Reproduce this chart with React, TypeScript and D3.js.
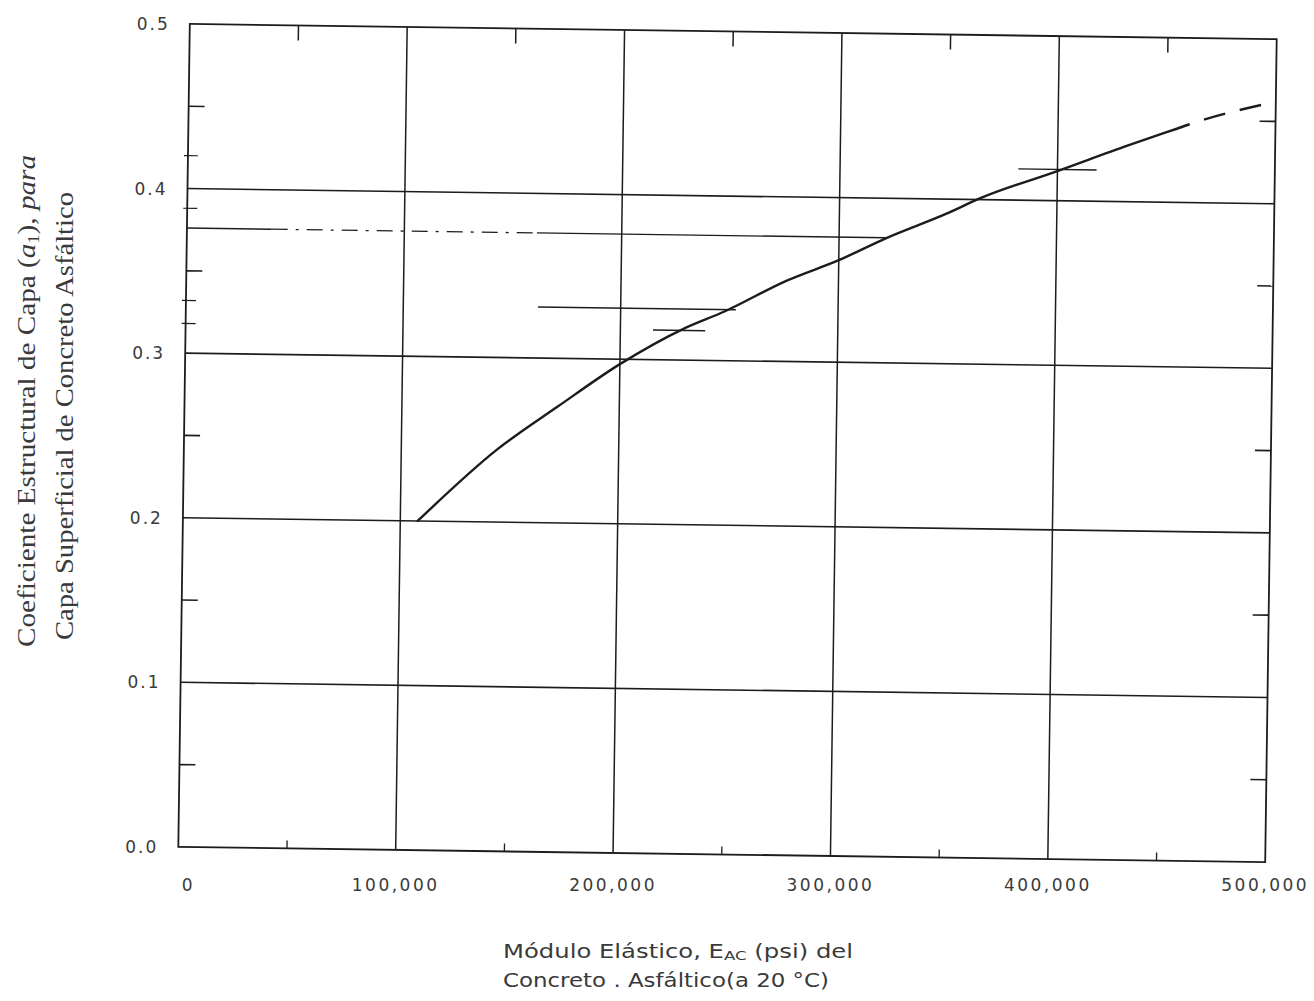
import React, { useLayoutEffect } from 'react';
import * as d3 from 'd3';

// ---- data ----
const X_TICKS = [0, 100000, 200000, 300000, 400000, 500000];
const X_LABELS = ['0', '100,000', '200,000', '300,000', '400,000', '500,000'];
const Y_TICKS = [0, 0.1, 0.2, 0.3, 0.4, 0.5];
const Y_LABELS = ['0.0', '0.1', '0.2', '0.3', '0.4', '0.5'];
const X_MINOR = [50000, 150000, 250000, 350000, 450000];
const Y_MINOR = [0.05, 0.15, 0.25, 0.35, 0.45];
const X_GRID = [100000, 200000, 300000, 400000];
const Y_GRID = [0.1, 0.2, 0.3, 0.4];

// a1 vs E_AC (solid part, then dashed extrapolation)
const CURVE_SOLID: [number, number][] = [
  [108000, 0.2],
  [144000, 0.244],
  [172000, 0.271],
  [200000, 0.297],
  [229000, 0.319],
  [248000, 0.33],
  [276000, 0.349],
  [300000, 0.362],
  [322000, 0.376],
  [349000, 0.391],
  [365000, 0.401],
  [400000, 0.418],
  [432000, 0.434],
  [451000, 0.443],
];
const CURVE_DASHED: [number, number][] = [
  [451000, 0.443],
  [466000, 0.45],
  [500000, 0.462],
];

// reading guide lines [a1, E from, E to]
const GUIDE_SOLID: [number, number, number][] = [
  [0.376, 0, 39000],
  [0.376, 161000, 322000],
  [0.331, 162000, 253000],
  [0.318, 215000, 239000],
  [0.419, 382000, 418000],
];
const GUIDE_DASHED: [number, number, number][] = [[0.376, 39000, 161000]];
const AXIS_MARKS = [0.42, 0.388, 0.332, 0.318];

// ---- layout ----
const W = 1314;
const H = 1001;
const L = 184;
const R = 1271;
const T = 31.5;
const B = 854.5;
const ANGLE = 0.8;
const CX = (L + R) / 2;
const CY = (T + B) / 2;
const INK = '#1c1c1c';
const TEXT = '#3a3a3a';

const x = d3.scaleLinear().domain([0, 500000]).range([L, R]);
const y = d3.scaleLinear().domain([0, 0.5]).range([B, T]);

const rot = (px: number, py: number) => {
  const a = (ANGLE * Math.PI) / 180;
  const dx = px - CX;
  const dy = py - CY;
  return {
    x: CX + dx * Math.cos(a) - dy * Math.sin(a),
    y: CY + dx * Math.sin(a) + dy * Math.cos(a),
  };
};

const line = d3
  .line<[number, number]>()
  .x((d) => x(d[0]))
  .y((d) => y(d[1]))
  .curve(d3.curveMonotoneX);

export default function App() {
  useLayoutEffect(() => {
    document.body.style.margin = '0';
    document.body.style.background = '#fff';
  }, []);

  const tickFont = '"DejaVu Sans", Verdana, sans-serif';

  return (
    <svg width={W} height={H} viewBox={`0 0 ${W} ${H}`} style={{ display: 'block', background: '#fff' }}>
      <g transform={`rotate(${ANGLE},${CX},${CY})`} fill="none" stroke={INK}>
        {/* grid */}
        {Y_GRID.map((v) => (
          <line key={'hy' + v} x1={L} x2={R} y1={y(v)} y2={y(v)} strokeWidth={1.6} />
        ))}
        {X_GRID.map((v) => (
          <line key={'vx' + v} x1={x(v)} x2={x(v)} y1={T} y2={B} strokeWidth={1.5} />
        ))}
        {/* frame */}
        <rect x={L} y={T} width={R - L} height={B - T} strokeWidth={1.8} />
        {/* minor ticks */}
        {Y_MINOR.map((v) => (
          <g key={'ym' + v}>
            <line x1={L} x2={L + 16} y1={y(v)} y2={y(v)} strokeWidth={1.6} />
            <line x1={R - 16} x2={R} y1={y(v)} y2={y(v)} strokeWidth={1.6} />
          </g>
        ))}
        {X_MINOR.map((v) => (
          <g key={'xm' + v}>
            <line x1={x(v)} x2={x(v)} y1={T} y2={T + 15} strokeWidth={1.5} />
            <line x1={x(v)} x2={x(v)} y1={B - 8} y2={B} strokeWidth={1.3} />
          </g>
        ))}
        {AXIS_MARKS.map((v) => (
          <line key={'am' + v} x1={L - 4} x2={L + 10} y1={y(v)} y2={y(v)} strokeWidth={1.2} />
        ))}
        {/* guide lines */}
        {GUIDE_SOLID.map((g, i) => (
          <line key={'gs' + i} x1={x(g[1])} x2={x(g[2])} y1={y(g[0])} y2={y(g[0])} strokeWidth={1.4} />
        ))}
        {GUIDE_DASHED.map((g, i) => (
          <line
            key={'gd' + i}
            x1={x(g[1])}
            x2={x(g[2])}
            y1={y(g[0])}
            y2={y(g[0])}
            strokeWidth={1.3}
            strokeDasharray="16 8 3 8"
          />
        ))}
        {/* curve */}
        <path d={line(CURVE_SOLID) || ''} strokeWidth={2.4} strokeLinecap="round" />
        <path d={line(CURVE_DASHED) || ''} strokeWidth={2.4} strokeDasharray="22 15" />
      </g>

      {/* y tick labels */}
      {Y_TICKS.map((v, i) => {
        const p = rot(L, y(v));
        return (
          <text
            key={'yl' + v}
            x={p.x - 20}
            y={p.y}
            textAnchor="end"
            dominantBaseline="central"
            fontFamily={tickFont}
            fontSize={17}
            letterSpacing={2}
            fill={TEXT}
          >
            {Y_LABELS[i]}
          </text>
        );
      })}
      {/* x tick labels */}
      {X_TICKS.map((v, i) => {
        const p = rot(x(v), B);
        return (
          <text
            key={'xl' + v}
            x={p.x + (i === 0 ? 10 : 0)}
            y={885}
            textAnchor="middle"
            dominantBaseline="central"
            fontFamily={tickFont}
            fontSize={17}
            letterSpacing={2.5}
            fill={TEXT}
          >
            {X_LABELS[i]}
          </text>
        );
      })}

      {/* y axis title */}
      <g fontFamily='"Liberation Serif", "DejaVu Serif", serif' fontSize={25} fill={TEXT}>
        <text transform="translate(35,401) rotate(-90)" textAnchor="middle" textLength={492} lengthAdjust="spacingAndGlyphs">
          Coeficiente Estructural de Capa (<tspan fontStyle="italic">a</tspan>
          <tspan fontSize={16} dy={4}>1</tspan>
          <tspan dy={-4}>),  </tspan>
          <tspan fontStyle="italic">para</tspan>
        </text>
        <text transform="translate(73,416) rotate(-90)" textAnchor="middle" textLength={448} lengthAdjust="spacingAndGlyphs">
          Capa Superficial de Concreto Asfáltico
        </text>
      </g>

      {/* x axis title */}
      <g fontFamily={tickFont} fontSize={19} fill={TEXT}>
        <text x={503} y={958} textLength={350} lengthAdjust="spacingAndGlyphs">
          Módulo Elástico, E<tspan fontSize={13} dy={2}>AC</tspan>
          <tspan dy={-2}> (psi) del</tspan>
        </text>
        <text x={503} y={987} textLength={326} lengthAdjust="spacingAndGlyphs">
          Concreto . Asfáltico(a 20 °C)
        </text>
      </g>
    </svg>
  );
}
